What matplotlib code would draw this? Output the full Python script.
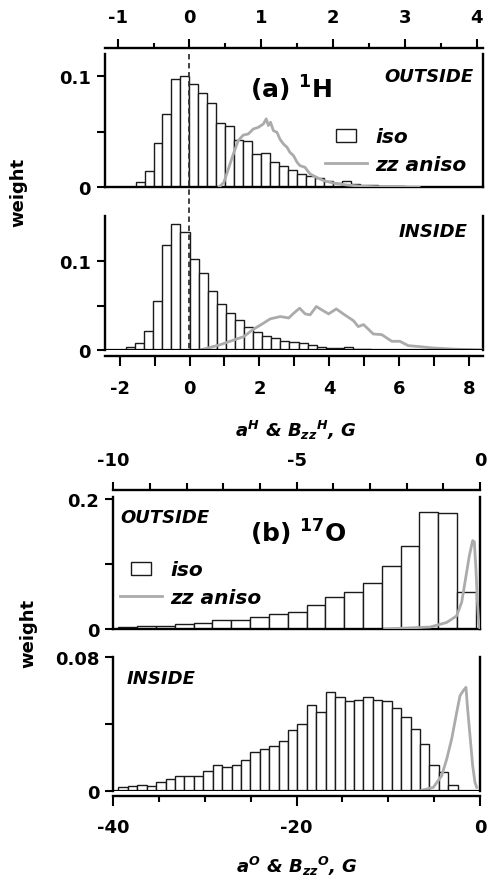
import numpy as np
import matplotlib
matplotlib.use("Agg")
import matplotlib.pyplot as plt
from matplotlib.patches import Rectangle
from matplotlib.lines import Line2D
from matplotlib.legend_handler import HandlerPatch
from matplotlib.ticker import MultipleLocator
from matplotlib.transforms import blended_transform_factory

plt.rcParams["font.family"] = "DejaVu Sans"
plt.rcParams["font.weight"] = "bold"
plt.rcParams["axes.unicode_minus"] = False
plt.rcParams["mathtext.fontset"] = "custom"
plt.rcParams["mathtext.rm"] = "DejaVu Sans:bold"
plt.rcParams["mathtext.bf"] = "DejaVu Sans:bold"
plt.rcParams["mathtext.it"] = "DejaVu Sans:italic:bold"

# ---- (a) 1H, outside : iso histogram (fixed-width bins) + zz aniso curve
h_out_start = -0.75
h_out_width = 0.125
h_out_iso = [0.0045, 0.015, 0.040, 0.066, 0.0976, 0.100, 0.093, 0.085, 0.0757,
             0.058, 0.0556, 0.0426, 0.0414, 0.030, 0.031, 0.023, 0.019, 0.016,
             0.012, 0.0099, 0.008, 0.006, 0.004, 0.0055, 0.003, 0.0025, 0.002,
             0.0015, 0.001, 0.0008, 0.0005]
h_out_zz_x = [0.41, 0.48, 0.55, 0.62, 0.68, 0.75, 0.82, 0.89, 0.96, 1.03, 1.07,
              1.10, 1.13, 1.17, 1.22, 1.26, 1.31, 1.36, 1.40, 1.45, 1.50, 1.54,
              1.61, 1.68, 1.77, 1.87, 2.00, 2.19, 2.38, 2.6, 2.9, 3.2]
h_out_zz_y = [0, 0.0045, 0.018, 0.0315, 0.042, 0.047, 0.048, 0.0525, 0.054,
              0.057, 0.0616, 0.0556, 0.0586, 0.051, 0.0495, 0.0435, 0.039, 0.036,
              0.0315, 0.0285, 0.0225, 0.0195, 0.018, 0.012, 0.009, 0.006, 0.0039,
              0.0021, 0.001, 0.0005, 0.0002, 0]

# ---- (a) 1H, inside
h_in_start = -2.08
h_in_width = 0.26
h_in_iso = [0.0005, 0.003, 0.008, 0.021, 0.0556, 0.118, 0.142, 0.1327, 0.102,
            0.0868, 0.066, 0.052, 0.0413, 0.0338, 0.0255, 0.020, 0.016, 0.013,
            0.0105, 0.0086, 0.0075, 0.006, 0.003, 0.002, 0.002, 0.0034, 0.0015,
            0.001]
h_in_zz_x = [0.3, 0.5, 0.885, 1.27, 1.55, 1.84, 2.07, 2.31, 2.60, 2.84, 2.98,
             3.15, 3.31, 3.45, 3.63, 3.79, 3.98, 4.20, 4.40, 4.69, 4.83, 4.98,
             5.26, 5.50, 5.79, 6.02, 6.26, 6.59, 6.97, 7.55, 8.4]
h_in_zz_y = [0, 0.002, 0.006, 0.0113, 0.015, 0.0237, 0.029, 0.035, 0.0376,
             0.036, 0.0413, 0.047, 0.0406, 0.0395, 0.0489, 0.045, 0.0406, 0.0462,
             0.0406, 0.033, 0.0263, 0.0286, 0.018, 0.0173, 0.0098, 0.0098,
             0.0049, 0.0038, 0.0023, 0.001, 0]

# ---- (b) 17O, outside
o_out_start = -9.86
o_out_width = 0.513
o_out_iso = [0.0035, 0.005, 0.005, 0.0077, 0.0092, 0.0143, 0.0143, 0.018,
             0.023, 0.0266, 0.037, 0.0487, 0.0574, 0.0708, 0.0964, 0.127,
             0.180, 0.178, 0.0565]
o_out_zz_x = [-2.6, -2.18, -1.36, -0.91, -0.64, -0.50, -0.38, -0.29, -0.20,
              -0.155, -0.11, -0.074, -0.035, -0.01]
o_out_zz_y = [0, 0.001, 0.003, 0.01, 0.02, 0.041, 0.082, 0.113, 0.136, 0.134,
              0.092, 0.046, 0.01, 0.002]

# ---- (b) 17O, inside
o_in_start = -39.44
o_in_width = 1.028
o_in_iso = [0.002, 0.003, 0.0034, 0.003, 0.005, 0.007, 0.0086, 0.0086, 0.009,
            0.0116, 0.0156, 0.014, 0.0156, 0.0186, 0.023, 0.025, 0.0266, 0.0298,
            0.0364, 0.040, 0.0514, 0.047, 0.0594, 0.0564, 0.054, 0.0546, 0.056,
            0.0546, 0.0535, 0.0494, 0.044, 0.037, 0.028, 0.0156, 0.011, 0.0034]
o_in_zz_x = [-6.54, -5.09, -4.18, -3.63, -3.09, -2.54, -2.18, -1.82, -1.53,
             -1.38, -1.09, -0.80, -0.55, -0.36]
o_in_zz_y = [0, 0.002, 0.009, 0.019, 0.031, 0.047, 0.057, 0.060, 0.062, 0.051,
             0.033, 0.015, 0.005, 0.002]

GRAY = "#ababab"
W, H = 489, 878


def px_axes(left, top, right, bottom):
    return [left / W, 1 - bottom / H, (right - left) / W, (bottom - top) / H]


def draw_hist(ax, start, width, heights):
    edges = start + width * np.arange(len(heights))
    ax.bar(edges, heights, width=width, align="edge", facecolor="white",
           edgecolor="#1a1a1a", linewidth=1.0, zorder=2)


def style_axes(ax, side):
    for s in ["left", "right", "top", "bottom"]:
        ax.spines[s].set_linewidth(1.7)
    ax.tick_params(axis="y", which="both", direction="out", length=6,
                   width=1.5, labelsize=13, pad=4, right=False)
    if side == "top":
        ax.spines["top"].set_position(("outward", 4))
        ax.xaxis.set_ticks_position("top")
        ax.xaxis.set_label_position("top")
        ax.tick_params(axis="x", which="both", direction="out", bottom=False,
                       top=True, labelbottom=False, labeltop=True, width=1.5,
                       labelsize=13)
    else:
        ax.spines["bottom"].set_position(("outward", 4))
        ax.spines["top"].set_visible(False)
        ax.axhline(0, color="black", lw=1.6, zorder=3)
        ax.tick_params(axis="x", which="both", direction="out", bottom=True,
                       top=False, width=1.5, labelsize=13)


def narrow_box(legend, orig_handle, xdescent, ydescent, width, height, fontsize):
    return Rectangle((width * 0.27 - xdescent, -ydescent), width * 0.46, height)


def add_legend(ax, anchor):
    box = Rectangle((0, 0), 1, 1, facecolor="white", edgecolor="#1a1a1a", lw=1.0)
    line = Line2D([], [], color=GRAY, lw=2)
    ax.legend([box, line], ["iso", "zz aniso"], loc="upper left",
              bbox_to_anchor=anchor, frameon=False, borderpad=0,
              borderaxespad=0, handlelength=2.1, handleheight=0.65,
              handletextpad=0.4, labelspacing=0.42,
              prop=dict(size=14.5, weight="bold", style="italic"),
              handler_map={Rectangle: HandlerPatch(patch_func=narrow_box)})


fig = plt.figure(figsize=(W / 100, H / 100), dpi=100)

lab = dict(fontsize=13, fontweight="bold", fontstyle="italic")

# ---------------- (a) 1H outside
ax1 = fig.add_axes(px_axes(105, 55, 483, 188.3))
draw_hist(ax1, h_out_start, h_out_width, h_out_iso)
ax1.plot(h_out_zz_x, h_out_zz_y, color=GRAY, lw=2, zorder=3)
ax1.set_xlim(-1.176, 4.09)
ax1.set_ylim(0, 0.12)
style_axes(ax1, "top")
ax1.set_xticks(range(-1, 5))
ax1.xaxis.set_minor_locator(MultipleLocator(0.5))
ax1.tick_params(axis="x", which="major", length=6.5, pad=10)
ax1.tick_params(axis="x", which="minor", length=3.6)
ax1.set_yticks([0, 0.05, 0.1])
ax1.set_yticklabels(["0", "", "0.1"])
ax1.text(0.974, 0.835, "OUTSIDE", transform=ax1.transAxes, ha="right",
         va="center", **lab)
ax1.text(0.384, 0.742, r"(a) $^{1}$H", transform=ax1.transAxes, ha="left",
         va="center", fontsize=18, fontweight="bold")
add_legend(ax1, (0.582, 0.45))

# ---------------- (a) 1H inside
ax2 = fig.add_axes(px_axes(105, 216.7, 483, 351))
draw_hist(ax2, h_in_start, h_in_width, h_in_iso)
ax2.plot(h_in_zz_x, h_in_zz_y, color=GRAY, lw=2, zorder=3)
ax2.set_xlim(-2.42, 8.40)
ax2.set_ylim(0, 0.151)
style_axes(ax2, "bottom")
ax2.set_xticks(range(-2, 9))
ax2.set_xticklabels([str(v) if v % 2 == 0 else "" for v in range(-2, 9)])
ax2.tick_params(axis="x", which="major", length=7, pad=10)
ax2.set_yticks([0, 0.05, 0.1])
ax2.set_yticklabels(["0", "", "0.1"])
ax2.text(0.960, 0.888, "INSIDE", transform=ax2.transAxes, ha="right",
         va="center", **lab)

# dashed zero line running through both 1H panels
trans = blended_transform_factory(ax1.transData, fig.transFigure)
fig.add_artist(Line2D([0, 0], [1 - 55 / H, 1 - 351 / H], transform=trans,
                      color="#333333", lw=1.3, ls=(0, (3, 2)), zorder=5))

# ---------------- (b) 17O outside
ax3 = fig.add_axes(px_axes(113.3, 498, 480, 630))
draw_hist(ax3, o_out_start, o_out_width, o_out_iso)
ax3.plot(o_out_zz_x, o_out_zz_y, color=GRAY, lw=2, zorder=3)
ax3.set_xlim(-10, 0)
ax3.set_ylim(0, 0.203)
style_axes(ax3, "top")
ax3.spines["top"].set_position(("outward", 5))
ax3.set_xticks([-10, -5, 0])
ax3.xaxis.set_minor_locator(MultipleLocator(1))
ax3.tick_params(axis="x", which="major", length=6, pad=9)
ax3.tick_params(axis="x", which="minor", length=5)
ax3.set_yticks([0, 0.1, 0.2])
ax3.set_yticklabels(["0", "", "0.2"])
ax3.text(0.018, 0.848, "OUTSIDE", transform=ax3.transAxes, ha="left",
         va="center", **lab)
ax3.text(0.373, 0.735, r"(b) $^{17}$O", transform=ax3.transAxes, ha="left",
         va="center", fontsize=18, fontweight="bold")
add_legend(ax3, (0.018, 0.52))

# ---------------- (b) 17O inside
ax4 = fig.add_axes(px_axes(113.3, 658.3, 480, 791.7))
draw_hist(ax4, o_in_start, o_in_width, o_in_iso)
ax4.plot(o_in_zz_x, o_in_zz_y, color=GRAY, lw=2, zorder=3)
ax4.set_xlim(-40, 0)
ax4.set_ylim(0, 0.08)
style_axes(ax4, "bottom")
ax4.set_xticks([-40, -20, 0])
ax4.xaxis.set_minor_locator(MultipleLocator(5))
ax4.tick_params(axis="x", which="major", length=7, pad=9)
ax4.tick_params(axis="x", which="minor", length=4.5)
ax4.set_yticks([0, 0.04, 0.08])
ax4.set_yticklabels(["0", "", "0.08"])
ax4.text(0.035, 0.845, "INSIDE", transform=ax4.transAxes, ha="left",
         va="center", **lab)

# axis titles
fig.text(18 / W, 1 - 192 / H, "weight", rotation=90, ha="center", va="center",
         fontsize=13, fontweight="bold")
fig.text(28 / W, 1 - 633 / H, "weight", rotation=90, ha="center", va="center",
         fontsize=13, fontweight="bold")
fig.text(296 / W, 1 - 430 / H, r"$a^{H}$ & $B_{zz}{}^{H}$, G", ha="center",
         va="center", **lab)
fig.text(297 / W, 1 - 866 / H, r"$a^{O}$ & $B_{zz}{}^{O}$, G", ha="center",
         va="center", **lab)

fig.savefig("out.png", dpi=100)
